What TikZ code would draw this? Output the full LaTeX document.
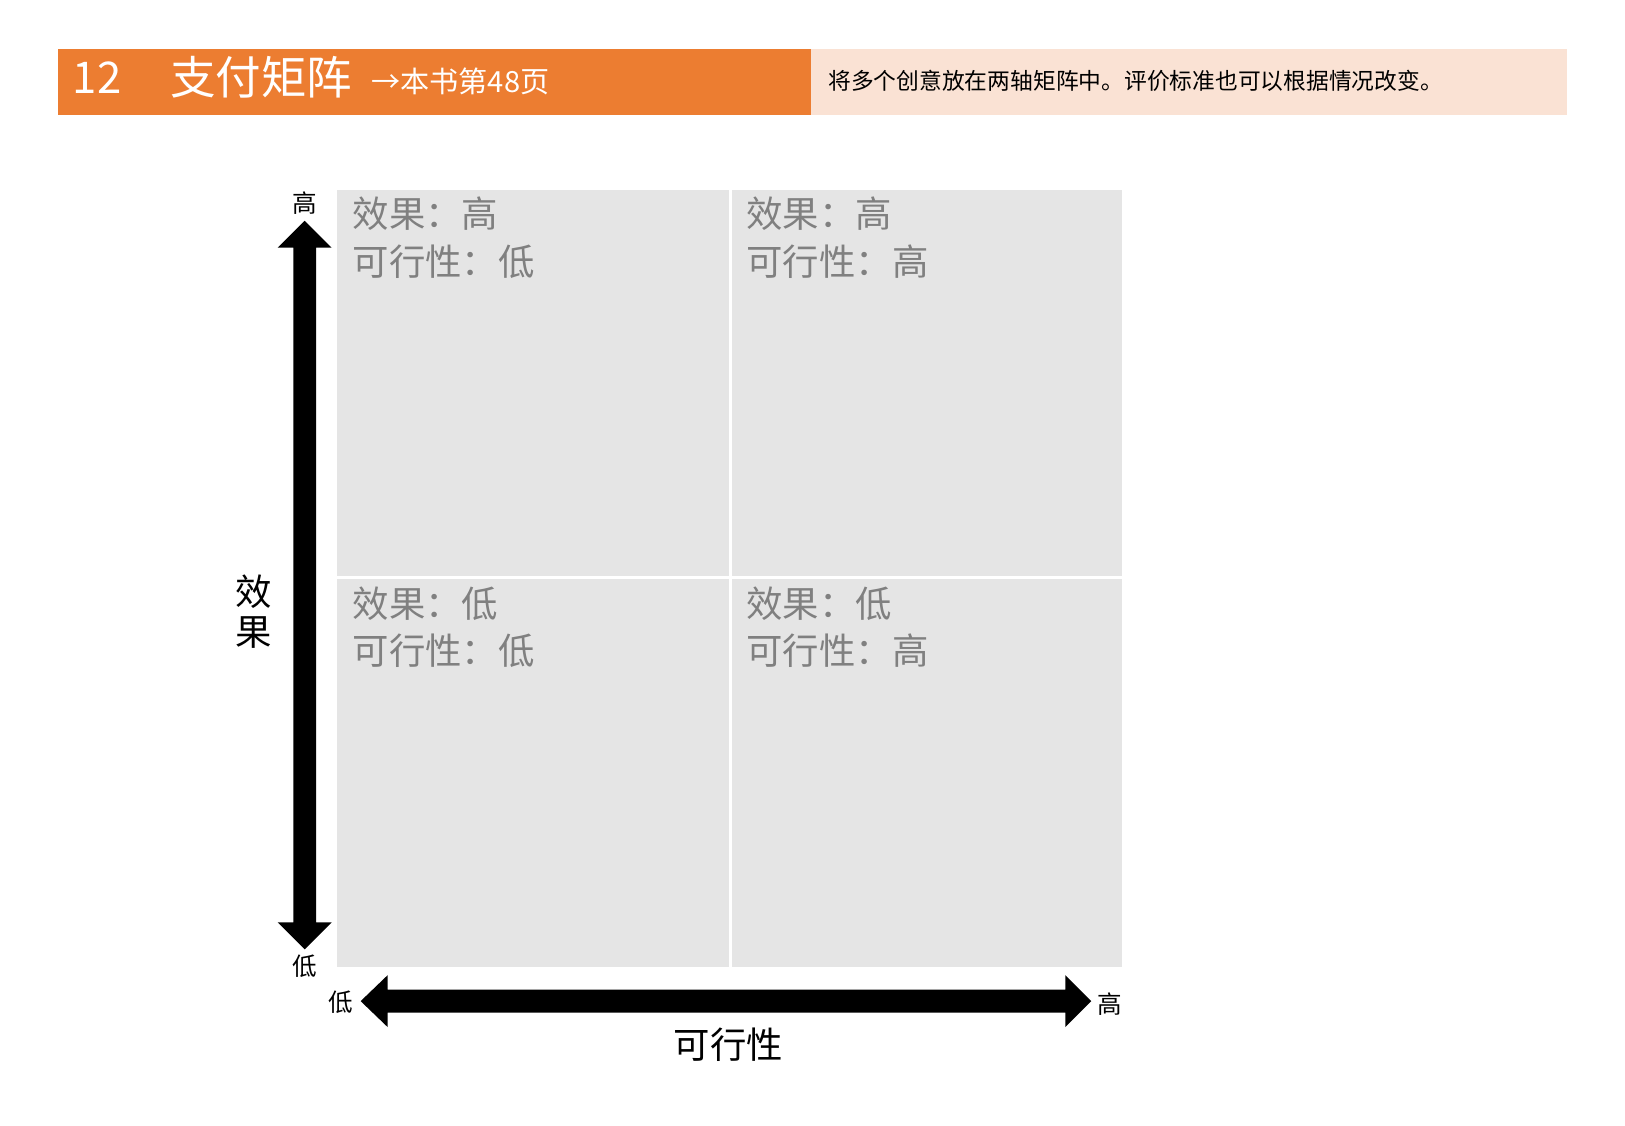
\documentclass[tikz,border=0pt]{standalone}
\usepackage{fontspec}
\setmainfont{Noto Sans CJK SC}
\begin{document}
\begin{tikzpicture}[x=0.02cm,y=-0.02cm,
  quad/.style={fill=black!10,draw=none,minimum width=378\dimexpr0.02cm\relax},
  qtext/.style={text=black!50,font=\fontsize{20}{26}\selectfont,align=left,anchor=north west,inner sep=0pt},
  axl/.style={font=\fontsize{13.5}{16}\selectfont,inner sep=0pt}]
\useasboundingbox (0,0) rectangle (1568,1086);
\fill[fill={rgb,255:red,236;green,125;blue,49}] (56,47) rectangle (783,111);
\fill[fill={rgb,255:red,250;green,226;blue,212}] (783,47) rectangle (1512,111);
\node[text=white,font=\fontsize{24}{28}\selectfont,anchor=west,inner sep=0pt] (num) at (70,75) {12};
\node[text=white,font=\fontsize{25}{30}\selectfont,anchor=west,inner sep=0pt] (title) at (164,75) {支付矩阵};
\node[text=white,font=\fontsize{16}{20}\selectfont,anchor=west,inner sep=0pt] (ref) at (358,79) {→本书第48页};
\node[font=\fontsize{12.5}{15}\selectfont,anchor=west,inner sep=0pt] (desc) at (799,78) {将多个创意放在两轴矩阵中。评价标准也可以根据情况改变。};
\fill[black!10] (325,183) rectangle (703,556);
\fill[black!10] (706,183) rectangle (1083,556);
\fill[black!10] (325,559) rectangle (703,933);
\fill[black!10] (706,559) rectangle (1083,933);
\node[qtext] (q1) at (340,190) {效果：高\\可行性：低};
\node[qtext] (q2) at (720,190) {效果：高\\可行性：高};
\node[qtext] (q3) at (340,566) {效果：低\\可行性：低};
\node[qtext] (q4) at (720,566) {效果：低\\可行性：高};
% vertical arrow
\fill[black] (294,213) -- (320,239) -- (305,239) -- (305,890) -- (320,890) -- (294,916) -- (268,890) -- (283,890) -- (283,239) -- (268,239) -- cycle;
\node[axl] (vh) at (294,196) {高};
\node[axl] (vl) at (294,932) {低};
\node[font=\fontsize{20}{22}\selectfont,align=center,inner sep=0pt] (vlab) at (245,590) {效\\果};
% horizontal arrow
\fill[black] (348,966) -- (374,941) -- (374,955) -- (1028,955) -- (1028,941) -- (1053,966) -- (1028,991) -- (1028,977) -- (374,977) -- (374,991) -- cycle;
\node[axl] (hl) at (329,967) {低};
\node[axl] (hh) at (1071,969) {高};
\node[font=\fontsize{20}{22}\selectfont,inner sep=0pt] (hlab) at (703,1008) {可行性};
\end{tikzpicture}
\end{document}
